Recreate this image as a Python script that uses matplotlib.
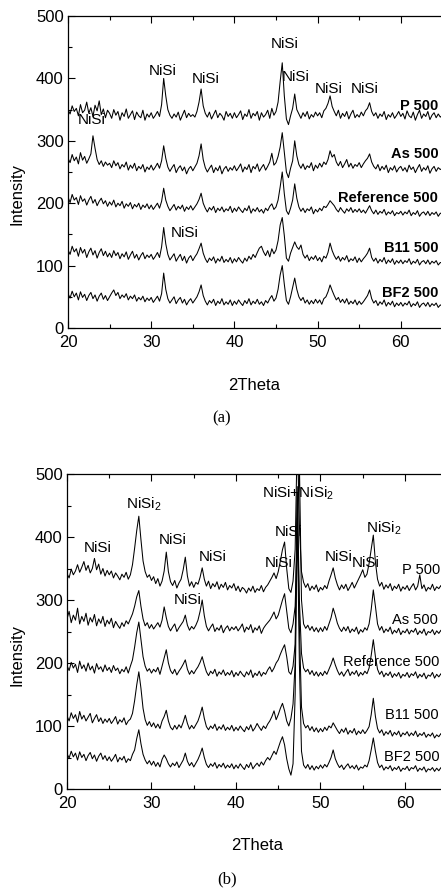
import numpy as np
import matplotlib
matplotlib.use('Agg')
from matplotlib import pyplot as plt
from matplotlib.ticker import MultipleLocator

plt.rcParams['font.family'] = ['Liberation Sans', 'DejaVu Sans']
plt.rcParams['mathtext.default'] = 'regular'

# 2theta sampled every 0.25 deg from 20 to 65
two_theta = np.linspace(20, 65, 181)

# ---- panel (a) traces ----
p500_a = [350,343,356,347,352,340,358,345,349,362,344,353,339,357,348,364,342,351,337,349,
          344,336,350,341,347,333,345,339,351,336,342,348,334,346,340,337,349,333,343,338,
          345,336,341,347,339,358,400,372,350,341,336,343,338,346,333,341,349,337,344,339,
          342,338,347,362,383,356,344,338,346,335,342,349,337,344,340,333,347,339,344,336,
          345,337,342,348,334,343,339,350,336,344,340,347,333,345,338,342,349,336,352,341,
          347,362,395,425,372,335,326,340,352,375,350,343,336,345,339,347,335,342,338,346,
          340,345,337,348,352,360,372,355,347,340,349,336,344,339,347,335,343,349,337,342,
          338,346,340,348,352,361,347,340,345,336,343,339,347,334,342,338,345,336,341,347,
          339,344,335,348,340,337,346,333,342,349,336,343,339,347,334,341,345,337,343,338,
          341]
as500_a = [272,265,278,268,274,263,281,269,275,264,271,279,308,288,270,262,268,259,266,261,
           264,257,268,260,265,255,262,258,266,253,261,256,264,252,259,255,262,250,258,254,
           261,253,258,264,256,268,292,272,258,251,257,262,249,256,260,252,258,247,255,259,
           252,258,264,276,295,270,257,250,256,261,249,257,252,260,247,255,259,251,257,253,
           260,252,257,263,250,258,254,262,249,259,255,263,251,257,262,253,259,266,280,261,
           265,275,290,313,282,250,241,256,268,300,276,262,256,263,254,260,257,265,252,261,
           256,264,258,266,262,270,284,274,278,266,260,267,257,263,270,258,264,256,262,259,
           265,257,263,268,272,279,266,259,255,262,252,259,254,261,249,257,253,260,250,256,
           259,252,257,250,261,254,258,249,256,262,251,257,253,260,248,255,259,251,257,254,
           256]
ref500_a = [210,201,214,205,209,198,212,203,207,197,205,211,200,206,196,203,208,199,204,195,
            202,197,205,194,200,196,203,192,199,195,201,191,198,194,200,190,197,193,199,191,
            197,190,195,200,192,203,224,205,195,188,193,198,189,195,191,197,187,194,190,196,
            189,194,199,206,216,200,192,186,193,189,195,185,192,188,194,186,191,188,195,185,
            192,187,194,189,185,192,188,196,184,191,187,193,186,190,184,192,188,195,199,190,
            194,205,226,250,215,188,182,192,205,231,208,194,187,192,185,191,188,194,183,190,
            186,192,188,195,193,198,204,200,196,190,186,193,188,184,191,187,193,185,190,186,
            191,185,189,184,190,196,188,183,189,182,187,184,190,181,186,183,188,180,185,183,
            187,181,186,183,189,180,185,182,188,179,184,186,181,187,180,185,182,186,179,184,
            183]
b11_a = [125,118,131,122,127,115,129,120,126,113,122,128,117,124,112,121,127,116,123,114,
         120,113,124,116,121,111,119,114,122,110,117,123,112,118,109,116,121,111,117,113,
         118,110,115,121,113,130,161,135,118,109,114,119,107,113,118,108,115,104,112,116,
         108,114,119,127,136,120,111,105,112,108,114,104,111,107,115,105,110,106,113,104,
         111,106,113,108,104,112,107,115,110,118,113,121,128,131,122,116,124,114,127,119,
         125,140,165,177,148,112,107,120,129,138,130,126,133,118,112,117,108,114,110,116,
         108,113,106,115,112,121,136,124,116,110,115,107,113,109,116,106,111,108,114,105,
         112,106,111,115,120,128,113,107,112,104,110,106,113,103,109,105,111,102,108,104,
         109,103,108,105,111,102,107,104,110,101,106,108,103,109,102,107,104,108,101,105,
         104]
bf2_a = [55,48,59,50,56,45,58,49,54,44,52,57,47,53,43,51,56,46,52,44,
         50,56,61,52,57,47,53,49,55,45,51,47,53,43,49,45,51,42,48,44,
         49,41,46,51,43,55,88,62,47,40,45,50,39,45,49,40,46,37,43,47,
         40,45,50,58,69,52,43,37,44,40,46,36,43,39,47,37,42,38,45,36,
         43,38,45,40,36,44,39,47,37,43,39,46,38,42,36,44,40,47,52,43,
         48,62,85,100,70,44,38,50,65,80,62,50,44,49,40,45,38,44,39,46,
         40,45,38,47,50,58,69,60,52,45,49,41,46,40,47,38,43,39,45,37,
         43,38,42,47,52,61,47,40,44,36,42,38,45,35,41,37,43,34,40,36,
         41,35,40,37,43,34,39,36,42,33,38,40,35,41,34,39,36,40,33,37,
         35]

# ---- panel (b) traces ----
p500_b = [342,335,349,340,346,356,344,352,361,347,355,343,350,366,348,357,341,350,338,347,
          340,346,335,343,338,332,341,336,344,333,340,356,382,410,433,396,362,345,336,340,
          331,337,326,334,322,330,346,376,345,329,323,331,319,327,333,348,368,338,322,329,
          320,328,325,336,351,333,322,330,318,326,321,329,317,325,320,328,316,323,319,326,
          315,322,313,320,317,311,319,314,322,312,318,315,323,313,320,324,330,336,343,334,
          345,362,380,392,350,318,312,330,380,560,420,345,328,320,326,315,322,317,324,313,
          320,316,323,318,330,340,351,335,324,316,324,318,325,315,321,328,319,326,333,340,
          348,336,341,358,380,403,360,333,322,328,317,324,319,326,315,322,318,325,314,321,
          317,323,315,321,326,316,322,340,318,324,314,320,317,325,315,321,318,323,314,320,
          318]
as500_b = [270,282,264,276,268,287,262,274,266,279,260,272,265,277,259,270,263,274,258,268,
           262,271,256,266,260,255,264,258,267,262,270,278,290,305,315,290,270,259,264,255,
           261,254,259,264,257,268,289,272,258,251,257,262,250,256,261,266,276,260,252,258,
           254,260,268,282,300,275,258,251,257,262,250,256,252,260,248,255,259,251,257,253,
           258,251,256,262,249,257,253,261,248,256,252,259,247,255,260,264,268,274,281,270,
           276,288,300,310,282,255,248,262,290,400,520,300,262,255,260,252,258,250,256,249,
           256,250,258,252,262,272,287,276,263,255,250,257,251,258,248,254,250,257,246,253,
           249,256,252,262,285,316,290,262,252,258,248,254,250,257,246,252,248,255,245,251,
           248,254,246,252,249,255,245,251,247,254,244,250,248,253,245,251,247,252,244,249,
           249]
ref500_b = [196,188,201,192,198,185,203,191,197,187,200,189,195,184,199,190,194,186,197,188,
            193,185,196,188,192,183,190,186,194,184,195,205,225,248,265,238,210,195,187,191,
            184,190,186,193,182,195,208,221,200,188,183,190,181,187,192,198,205,190,182,188,
            183,189,194,201,210,197,186,180,187,183,190,179,186,182,189,180,185,181,188,178,
            185,180,187,182,178,186,181,189,177,184,180,187,179,185,182,189,194,186,192,200,
            205,214,222,229,210,186,182,195,230,470,300,215,192,186,190,182,188,180,186,179,
            185,180,187,182,190,198,208,197,188,181,186,179,185,190,180,186,182,188,179,185,
            181,187,183,192,212,237,210,190,182,187,178,184,180,186,177,183,179,185,176,182,
            179,185,177,183,180,186,176,182,178,184,175,181,179,185,176,182,178,183,175,180,
            180]
b11_b = [116,108,121,112,118,106,123,111,117,108,114,120,105,112,118,107,113,104,111,106,
         112,104,109,115,103,110,106,113,102,108,111,120,140,165,186,160,128,110,101,107,
         99,105,97,103,96,108,115,125,108,98,94,101,95,102,97,106,117,104,95,101,
         96,102,108,118,130,112,99,94,100,96,103,93,99,95,102,93,98,94,101,92,
         98,93,100,95,91,99,94,102,92,97,104,98,93,100,96,103,108,115,124,110,
         118,128,136,124,108,100,112,135,200,480,260,130,104,97,101,93,99,91,97,90,
         96,91,98,93,100,97,105,99,93,88,95,90,97,87,93,89,96,86,92,88,
         94,88,93,99,118,144,115,96,89,94,85,91,87,93,84,90,86,92,83,89,
         86,91,84,89,85,92,83,88,85,90,82,87,84,89,81,86,83,88,80,85,
         83]
bf2_b = [56,49,60,51,57,46,59,50,55,45,53,58,48,54,44,52,57,47,53,45,
         51,44,49,55,43,50,46,52,42,48,45,55,62,80,94,72,55,46,40,45,
         38,44,36,42,35,47,54,48,40,35,41,37,43,34,40,46,57,44,37,42,
         35,41,47,55,65,50,39,34,40,36,42,33,39,35,41,33,38,34,40,32,
         38,33,40,35,31,39,34,42,32,37,41,36,43,38,45,50,46,53,60,55,
         65,75,83,70,48,32,22,40,150,430,200,60,38,33,39,31,37,30,36,32,
         38,33,39,35,42,50,62,48,40,34,38,31,36,40,33,37,32,38,30,35,
         33,38,35,45,62,81,60,42,34,38,30,35,32,37,29,34,31,36,28,33,
         31,36,29,34,32,37,28,33,30,35,27,32,30,34,28,33,29,34,27,32,
         31]

# sample names and where their labels sit
names = ['P 500', 'As 500', 'Reference 500', 'B11 500', 'BF2 500']
label_y_a = [356, 279, 209, 128, 56]
label_x_b = [59.6, 58.5, 52.7, 57.6, 57.5]
label_y_b = [348, 268, 201, 117, 51]

# phase annotations (text, 2theta, intensity)
peaks_a = [('NiSi', 31.4, 412), ('NiSi', 36.5, 399), ('NiSi', 46.0, 455),
           ('NiSi', 47.4, 402), ('NiSi', 51.3, 383), ('NiSi', 55.6, 383),
           ('NiSi', 22.9, 334), ('NiSi', 34.0, 152)]
peaks_b = [('NiSi', 23.6, 382), ('NiSi$_2$', 29.1, 452), ('NiSi', 32.5, 395),
           ('NiSi', 37.2, 368), ('NiSi', 34.3, 300), ('NiSi+NiSi$_2$', 47.3, 469),
           ('NiSi', 46.2, 408), ('NiSi', 45.1, 358), ('NiSi', 52.1, 368),
           ('NiSi', 55.4, 358), ('NiSi$_2$', 57.5, 414)]

traces_a = [p500_a, as500_a, ref500_a, b11_a, bf2_a]
traces_b = [p500_b, as500_b, ref500_b, b11_b, bf2_b]
for t in traces_a + traces_b:
    assert len(t) == len(two_theta)

W, H = 441, 892
fig = plt.figure(figsize=(W / 100, H / 100), dpi=100)

def px_axes(left, right, top, bottom):
    return fig.add_axes([left / W, 1 - bottom / H, (right - left) / W, (bottom - top) / H])

ax_a = px_axes(68, 68 + 45 * 8.32, 16, 328)
ax_b = px_axes(67, 67 + 45 * 8.45, 474, 789)

def style_axes(ax):
    ax.set_xlim(20, 65)
    ax.set_ylim(0, 500)
    ax.xaxis.set_major_locator(MultipleLocator(10))
    ax.xaxis.set_minor_locator(MultipleLocator(5))
    ax.yaxis.set_major_locator(MultipleLocator(100))
    ax.yaxis.set_minor_locator(MultipleLocator(50))
    ax.tick_params(which='both', direction='in', top=True, right=False, width=0.8)
    ax.tick_params(which='major', length=5, labelsize=12)
    ax.tick_params(which='minor', length=3)
    ax.tick_params(axis='x', pad=5)
    ax.tick_params(axis='y', pad=3)
    ax.spines['right'].set_visible(False)
    for s in ['left', 'top', 'bottom']:
        ax.spines[s].set_linewidth(0.9)

for ax, traces in [(ax_a, traces_a), (ax_b, traces_b)]:
    style_axes(ax)
    for t in traces:
        ax.plot(two_theta, t, color='black', lw=0.75)

# sample labels
for name, y in zip(names, label_y_a):
    ax_a.text(64.5, y, name, ha='right', va='center', fontsize=10.5,
              fontweight='bold', clip_on=False)
for name, x, y in zip(names, label_x_b, label_y_b):
    ax_b.text(x, y, name, ha='left', va='center', fontsize=10.5, clip_on=False)

for ax, peaks in [(ax_a, peaks_a), (ax_b, peaks_b)]:
    for txt, x, y in peaks:
        ax.text(x, y, txt, ha='center', va='center', fontsize=11)

# axis titles and panel captions
fig.text(254 / W, 1 - 385 / H, '2Theta', ha='center', va='center', fontsize=12)
fig.text(257 / W, 1 - 846 / H, '2Theta', ha='center', va='center', fontsize=12)
fig.text(17 / W, 1 - 194 / H, 'Intensity', rotation=90, ha='center', va='center', fontsize=12)
fig.text(17 / W, 1 - 655 / H, 'Intensity', rotation=90, ha='center', va='center', fontsize=12)
fig.text(222 / W, 1 - 418 / H, '(a)', ha='center', va='center', fontsize=12,
         family='Liberation Serif')
fig.text(227 / W, 1 - 879 / H, '(b)', ha='center', va='center', fontsize=12,
         family='Liberation Serif')

fig.savefig('out.png', dpi=100)
